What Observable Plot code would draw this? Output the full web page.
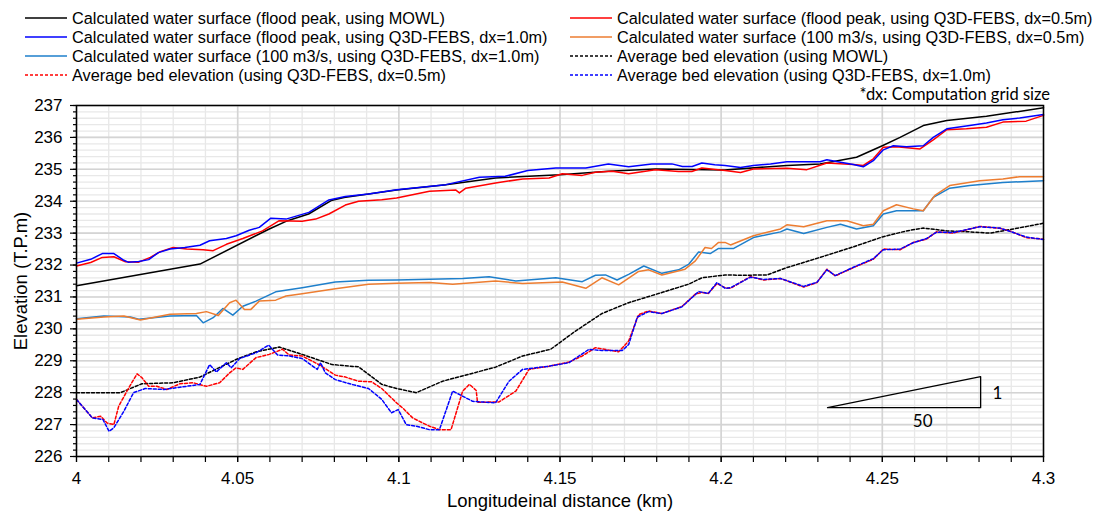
<!DOCTYPE html>
<html><head><meta charset="utf-8">
<script src="https://cdn.jsdelivr.net/npm/d3@7"></script>
<script src="https://cdn.jsdelivr.net/npm/@observablehq/plot@0.6"></script>
<style>
body{margin:0;background:#fff;}
#wrap{position:relative;width:1099px;height:511px;overflow:hidden;}
#chart{position:absolute;left:0;top:0;}
.item{position:absolute;display:flex;align-items:center;white-space:nowrap;height:18px;font-family:"Liberation Sans",Arial,sans-serif;font-size:16.3px;color:#000;}
.item svg{margin-right:5px;flex:none;}
#note{position:absolute;right:49px;top:84px;font-family:Lato,sans-serif;font-size:16.5px;color:#000;white-space:nowrap;}
</style></head>
<body><div id="wrap"><div id="chart"></div></div>
<script>
// ---- data (km, elevation T.P.m) ----
const wsMOWL = [[4.000,231.35],[4.0383,232.03],[4.0598,233.13],[4.065,233.37],[4.072,233.6],[4.079,234.02],[4.083,234.12],[4.0993,234.35],[4.1146,234.52],[4.130,234.73],[4.15,234.83],[4.165,234.94],[4.1796,235.01],[4.201,234.98],[4.2204,235.12],[4.2307,235.17],[4.242,235.38],[4.25,235.74],[4.2555,236.0],[4.2627,236.37],[4.270,236.53],[4.2823,236.66],[4.3,236.93]];
const wsQ3D05 = [[4.000,231.97],[4.0044,232.08],[4.008,232.24],[4.0116,232.26],[4.0152,232.1],[4.0193,232.09],[4.0229,232.24],[4.026,232.42],[4.03,232.55],[4.0342,232.5],[4.0393,232.48],[4.0424,232.45],[4.0465,232.65],[4.0516,232.83],[4.0577,233.07],[4.0629,233.39],[4.070,233.37],[4.0742,233.44],[4.0783,233.6],[4.0834,233.88],[4.0875,234.0],[4.0947,234.05],[4.0993,234.1],[4.1095,234.31],[4.1177,234.35],[4.1188,234.26],[4.1208,234.41],[4.130,234.57],[4.1384,234.7],[4.1466,234.73],[4.1507,234.86],[4.1569,234.81],[4.161,234.91],[4.1662,234.94],[4.1713,234.86],[4.1744,234.91],[4.1796,234.99],[4.1868,234.93],[4.1909,234.93],[4.194,235.04],[4.2012,234.96],[4.206,234.9],[4.210,235.01],[4.2204,235.03],[4.2266,234.99],[4.2328,235.2],[4.241,235.15],[4.2441,235.12],[4.2472,235.33],[4.2503,235.69],[4.2544,235.71],[4.2617,235.64],[4.2658,235.92],[4.27,236.24],[4.2761,236.27],[4.2823,236.32],[4.2874,236.48],[4.2946,236.51],[4.3,236.69]];
const wsQ3D10 = [[4.000,232.06],[4.0044,232.18],[4.008,232.36],[4.0116,232.36],[4.0147,232.15],[4.016,232.09],[4.0193,232.11],[4.0224,232.17],[4.0254,232.39],[4.029,232.5],[4.0336,232.55],[4.0383,232.62],[4.0413,232.76],[4.0465,232.83],[4.0495,232.92],[4.0536,233.09],[4.0567,233.18],[4.0603,233.47],[4.065,233.44],[4.0721,233.65],[4.0783,234.04],[4.0834,234.15],[4.0906,234.23],[4.0993,234.36],[4.1146,234.52],[4.125,234.75],[4.133,234.78],[4.140,234.96],[4.1487,235.04],[4.158,235.04],[4.165,235.17],[4.1713,235.08],[4.1785,235.17],[4.1847,235.17],[4.188,235.09],[4.191,235.09],[4.194,235.2],[4.198,235.14],[4.2012,235.12],[4.206,235.06],[4.210,235.12],[4.2153,235.17],[4.2204,235.24],[4.2307,235.24],[4.2328,235.3],[4.237,235.22],[4.241,235.15],[4.2441,235.08],[4.2472,235.27],[4.2503,235.61],[4.2534,235.74],[4.2575,235.71],[4.2627,235.74],[4.2658,236.0],[4.27,236.27],[4.2771,236.37],[4.2823,236.45],[4.2874,236.55],[4.2926,236.61],[4.3,236.72]];
const ws100Q3D05 = [[4.000,230.3],[4.0085,230.37],[4.0147,230.4],[4.0198,230.28],[4.029,230.46],[4.0372,230.48],[4.0403,230.54],[4.044,230.42],[4.0475,230.82],[4.0495,230.9],[4.0521,230.61],[4.0541,230.61],[4.0567,230.87],[4.0618,230.9],[4.065,231.03],[4.07,231.1],[4.0803,231.26],[4.0906,231.4],[4.0993,231.43],[4.1095,231.45],[4.1167,231.4],[4.130,231.5],[4.1384,231.42],[4.1507,231.47],[4.158,231.27],[4.163,231.6],[4.1682,231.38],[4.1744,231.8],[4.1775,231.85],[4.1816,231.69],[4.1888,231.87],[4.192,232.13],[4.195,232.55],[4.197,232.52],[4.1992,232.71],[4.2012,232.71],[4.2029,232.63],[4.210,232.92],[4.2184,233.13],[4.2204,233.26],[4.2256,233.2],[4.2328,233.39],[4.239,233.39],[4.2441,233.23],[4.2472,233.28],[4.2503,233.7],[4.2544,233.89],[4.2596,233.76],[4.2627,233.7],[4.2663,234.18],[4.2709,234.49],[4.2802,234.64],[4.2874,234.7],[4.2926,234.77],[4.3,234.77]];
const ws100Q3D10 = [[4.000,230.32],[4.0085,230.4],[4.0167,230.37],[4.0193,230.3],[4.029,230.4],[4.0372,230.42],[4.0393,230.19],[4.0424,230.35],[4.0454,230.64],[4.0485,230.43],[4.0516,230.71],[4.0557,230.87],[4.0618,231.16],[4.07,231.29],[4.0803,231.47],[4.0906,231.52],[4.0993,231.53],[4.1198,231.58],[4.128,231.63],[4.1363,231.5],[4.1487,231.6],[4.1569,231.48],[4.161,231.68],[4.1641,231.69],[4.1677,231.53],[4.1713,231.71],[4.176,231.97],[4.1816,231.74],[4.1868,231.85],[4.190,232.03],[4.193,232.41],[4.1966,232.36],[4.1992,232.52],[4.2039,232.52],[4.210,232.86],[4.2184,233.04],[4.2204,233.13],[4.2256,232.99],[4.2328,233.18],[4.237,233.28],[4.242,233.13],[4.2472,233.23],[4.2503,233.6],[4.2544,233.7],[4.2627,233.7],[4.2658,234.12],[4.2709,234.41],[4.2771,234.49],[4.2874,234.59],[4.3,234.64]];
const bedMOWL = [[4.000,228.0],[4.0136,228.0],[4.0203,228.28],[4.03,228.31],[4.0383,228.49],[4.0495,229.04],[4.0557,229.28],[4.0629,229.43],[4.07,229.2],[4.0793,228.88],[4.0875,228.81],[4.0947,228.26],[4.0993,228.13],[4.1054,228.0],[4.1136,228.36],[4.130,228.8],[4.1384,229.15],[4.1471,229.36],[4.1548,229.93],[4.163,230.48],[4.1713,230.82],[4.1816,231.14],[4.1899,231.4],[4.194,231.6],[4.2012,231.69],[4.206,231.68],[4.2143,231.69],[4.2204,231.92],[4.2307,232.24],[4.241,232.57],[4.25,232.88],[4.2575,233.07],[4.2627,233.16],[4.27,233.07],[4.2771,233.04],[4.2834,233.0],[4.2906,233.13],[4.3,233.31]];
const bedQ3D05 = [[4.000,227.79],[4.0049,227.21],[4.0075,227.26],[4.0095,227.05],[4.0116,227.0],[4.0131,227.58],[4.0162,228.15],[4.0188,228.59],[4.0203,228.47],[4.0224,228.2],[4.0249,228.2],[4.028,228.1],[4.0321,228.28],[4.0362,228.31],[4.0403,228.2],[4.0444,228.31],[4.0475,228.62],[4.0495,228.78],[4.0516,228.73],[4.0557,229.1],[4.0598,229.2],[4.0639,229.36],[4.066,229.18],[4.07,229.15],[4.0752,228.88],[4.0803,228.55],[4.0834,228.49],[4.0875,228.36],[4.0916,228.34],[4.0947,228.13],[4.0993,227.68],[4.1012,227.52],[4.1043,227.21],[4.1074,227.05],[4.1095,226.95],[4.1126,226.84],[4.1162,226.84],[4.1198,228.05],[4.1219,228.26],[4.124,228.07],[4.1244,227.7],[4.1311,227.71],[4.1363,228.05],[4.1404,228.73],[4.1466,228.83],[4.1528,228.96],[4.1569,229.15],[4.161,229.41],[4.1682,229.28],[4.1713,229.62],[4.1744,230.45],[4.1775,230.56],[4.1816,230.48],[4.1878,230.7],[4.192,231.09],[4.194,231.14],[4.196,231.11],[4.1987,231.42],[4.2012,231.29],[4.2029,231.27],[4.2091,231.64],[4.2132,231.53],[4.2184,231.58],[4.2256,231.31],[4.2297,231.45],[4.2328,231.87],[4.2354,231.66],[4.241,231.92],[4.2472,232.18],[4.2503,232.5],[4.2555,232.48],[4.2596,232.71],[4.2637,232.81],[4.2668,233.04],[4.272,233.0],[4.2802,233.21],[4.2864,233.15],[4.2895,233.07],[4.2946,232.86],[4.3,232.81]];
const bedQ3D10 = [[4.000,227.79],[4.0049,227.21],[4.0082,227.16],[4.0101,226.79],[4.0116,226.9],[4.0147,227.42],[4.0177,228.0],[4.0213,228.13],[4.027,228.1],[4.0321,228.17],[4.0383,228.26],[4.0413,228.88],[4.0434,228.65],[4.0465,228.94],[4.048,228.78],[4.0506,229.07],[4.0557,229.25],[4.0596,229.49],[4.0624,229.18],[4.066,229.15],[4.07,229.07],[4.0747,228.73],[4.0757,228.94],[4.0772,228.62],[4.0803,228.41],[4.0854,228.26],[4.0906,228.13],[4.0947,227.79],[4.0977,227.37],[4.0998,227.47],[4.1023,227.0],[4.1054,226.95],[4.1095,226.84],[4.1126,226.84],[4.1167,228.05],[4.1229,227.73],[4.130,227.68],[4.1342,228.36],[4.1384,228.73],[4.1466,228.83],[4.1528,228.94],[4.159,229.36],[4.163,229.32],[4.1693,229.32],[4.1713,229.51],[4.174,230.37],[4.1775,230.54],[4.1816,230.48],[4.1878,230.69],[4.193,231.17],[4.196,231.11],[4.1987,231.45],[4.2012,231.27],[4.2029,231.29],[4.2091,231.62],[4.2132,231.55],[4.2184,231.58],[4.2256,231.33],[4.2297,231.46],[4.2328,231.85],[4.2354,231.67],[4.241,231.93],[4.2472,232.2],[4.2503,232.48],[4.2555,232.5],[4.2596,232.7],[4.2637,232.83],[4.2668,233.03],[4.272,233.02],[4.2802,233.2],[4.2864,233.16],[4.2895,233.06],[4.2946,232.88],[4.3,232.8]];
const slopeTriangle = [[4.233,227.53],[4.2805,228.5],[4.2805,227.53],[4.233,227.53]];
const slopeLabels = [{x:4.2842,y:227.97,t:"1",a:"start"},{x:4.2625,y:227.08,t:"50",a:"middle"}];

const xTickLabels = [4, 4.05, 4.1, 4.15, 4.2, 4.25, 4.3];
const xMinorTicks = d3.range(0, 31).map(i => +(4 + i / 100).toFixed(2));
const yTickLabels = [226, 227, 228, 229, 230, 231, 232, 233, 234, 235, 236, 237];
const yMinorTicks = d3.range(0, 56).map(i => +(226 + i / 5).toFixed(1));

const seriesNames = [
  "Calculated water surface (flood peak, using MOWL)",
  "Calculated water surface (flood peak, using Q3D-FEBS, dx=0.5m)",
  "Calculated water surface (flood peak, using Q3D-FEBS, dx=1.0m)",
  "Calculated water surface (100 m3/s, using Q3D-FEBS, dx=0.5m)",
  "Calculated water surface (100 m3/s, using Q3D-FEBS, dx=1.0m)",
  "Average bed elevation (using MOWL)",
  "Average bed elevation (using Q3D-FEBS, dx=0.5m)",
  "Average bed elevation (using Q3D-FEBS, dx=1.0m)"
];
const seriesColors = ["#000000", "#ff0000", "#0000ff", "#ED7D31", "#1E7FCB", "#000000", "#ff0000", "#0000ff"];
const seriesDash = [null, null, null, null, null, "3,2", "3,2", "3,2"];
const seriesData = [wsMOWL, wsQ3D05, wsQ3D10, ws100Q3D05, ws100Q3D10, bedMOWL, bedQ3D05, bedQ3D10];

const drawOrder = [5, 6, 7, 4, 3, 0, 1, 2];
const lineMarks = drawOrder.map(i => Plot.line(seriesData[i], {
  x: d => d[0], y: d => d[1], stroke: seriesColors[i], strokeWidth: 1.5,
  strokeDasharray: seriesDash[i] || undefined
}));

const chart = Plot.plot({
  width: 1099, height: 511,
  marginTop: 105, marginLeft: 76, marginRight: 56, marginBottom: 55,
  x: {domain: [4, 4.3]},
  y: {domain: [226, 237]},
  style: {fontFamily: "'Liberation Sans', Arial, sans-serif", fontSize: "17px", color: "#000", background: "transparent"},
  marks: [
    Plot.ruleX(xMinorTicks, {stroke: "#e8e8e8", strokeWidth: 1.3}),
    Plot.ruleY(yMinorTicks, {stroke: "#e8e8e8", strokeWidth: 1.3}),
    Plot.ruleX(xTickLabels, {stroke: "#d4d4d4", strokeWidth: 1.6}),
    Plot.ruleY(yTickLabels, {stroke: "#d4d4d4", strokeWidth: 1.6}),
    ...lineMarks,
    Plot.line(slopeTriangle, {x: d => d[0], y: d => d[1], stroke: "#000", strokeWidth: 1.3}),
    Plot.text(slopeLabels, {x: "x", y: "y", text: "t", textAnchor: "start", fontFamily: "Lato, sans-serif", fontSize: 17, fill: "#000"}),
    Plot.frame({stroke: "#000", strokeWidth: 1.5}),
    Plot.axisX(xMinorTicks, {tickSize: 6, tickFormat: () => "", label: null, strokeWidth: 1.2}),
    Plot.axisX(xTickLabels, {tickSize: 6, tickPadding: 9, tickFormat: d => String(d), strokeWidth: 1.2,
      label: "Longitudeinal distance (km)", labelAnchor: "center", labelArrow: "none", labelOffset: 50, fontSize: 17}),
    Plot.axisY(yMinorTicks, {tickSize: 3, tickFormat: () => "", label: null, strokeWidth: 1.2}),
    Plot.axisY(yTickLabels, {tickSize: 6, tickPadding: 8, tickFormat: d => String(d), strokeWidth: 1.2,
      label: "Elevation (T.P.m)", labelAnchor: "center", labelArrow: "none", labelOffset: 63, fontSize: 17})
  ]
});
document.getElementById("chart").appendChild(chart);

// label tweaks: slope "50" centred, axis titles slightly larger
chart.querySelectorAll("text").forEach(t => {
  if (t.textContent === "50") t.setAttribute("text-anchor", "middle");
  if (t.textContent === "Elevation (T.P.m)" || t.textContent === "Longitudeinal distance (km)") t.setAttribute("font-size", "18.5");
});

// legend (HTML overlay in the top margin)
const wrap = document.getElementById("wrap");
const legendSlots = [[25, 18], [570, 18], [25, 37], [570, 37], [25, 56], [570, 56], [25, 75], [570, 75]];
const legendOrder = [0, 1, 2, 3, 4, 5, 6, 7];
legendOrder.forEach((s, k) => {
  const [lx, ly] = legendSlots[k];
  const div = document.createElement("div");
  div.className = "item";
  div.style.left = lx + "px";
  div.style.top = (ly - 9) + "px";
  const dash = seriesDash[s] ? `stroke-dasharray="${seriesDash[s]}"` : "";
  div.innerHTML = `<svg width="42" height="6"><line x1="0" y1="3" x2="42" y2="3" stroke="${seriesColors[s]}" stroke-width="1.5" ${dash}/></svg><span>${seriesNames[s]}</span>`;
  wrap.appendChild(div);
});
const note = document.createElement("div");
note.id = "note";
note.textContent = "*dx: Computation grid size";
wrap.appendChild(note);
</script></body></html>
